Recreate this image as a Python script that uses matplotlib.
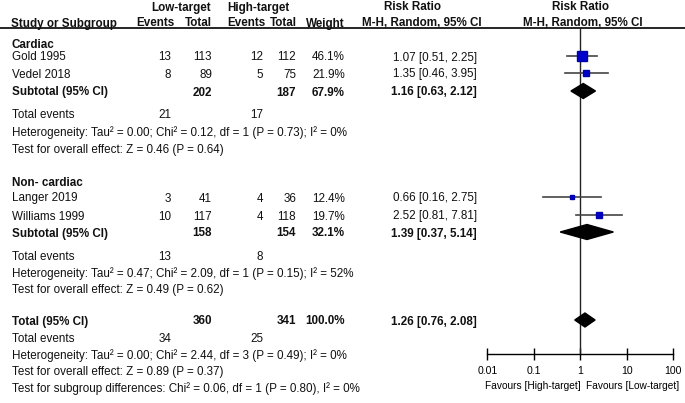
import numpy as np
import matplotlib
matplotlib.use('Agg')
import matplotlib.pyplot as plt

plt.rcParams['font.family'] = ['Liberation Sans', 'DejaVu Sans']

# study level data
studies = ['Gold 1995', 'Vedel 2018', 'Langer 2019', 'Williams 1999']
low_events = [13, 8, 3, 10]
low_total = [113, 89, 41, 117]
high_events = [12, 5, 4, 4]
high_total = [112, 75, 36, 118]
weights = [46.1, 21.9, 12.4, 19.7]
rr = [1.07, 1.35, 0.66, 2.52]
rr_lo = [0.51, 0.46, 0.16, 0.81]
rr_hi = [2.25, 3.95, 2.75, 7.81]

# subgroups
groups = ['Cardiac', 'Non- cardiac']
sub_low_total = [202, 158]
sub_high_total = [187, 154]
sub_weight = [67.9, 32.1]
sub_rr = [1.16, 1.39]
sub_lo = [0.63, 0.37]
sub_hi = [2.12, 5.14]
sub_low_events = [21, 13]
sub_high_events = [17, 8]
sub_het = ['Heterogeneity: Tau² = 0.00; Chi² = 0.12, df = 1 (P = 0.73); I² = 0%',
           'Heterogeneity: Tau² = 0.47; Chi² = 2.09, df = 1 (P = 0.15); I² = 52%']
sub_test = ['Test for overall effect: Z = 0.46 (P = 0.64)',
            'Test for overall effect: Z = 0.49 (P = 0.62)']

# overall
tot_low_total = 360
tot_high_total = 341
tot_weight = 100.0
tot_rr = 1.26
tot_lo = 0.76
tot_hi = 2.08
tot_low_events = 34
tot_high_events = 25
tot_het = 'Heterogeneity: Tau² = 0.00; Chi² = 2.44, df = 3 (P = 0.49); I² = 0%'
tot_test = 'Test for overall effect: Z = 0.89 (P = 0.37)'
subgroup_test = 'Test for subgroup differences: Chi² = 0.06, df = 1 (P = 0.80), I² = 0%'

ticks = [0.01, 0.1, 1, 10, 100]
tick_labels = ['0.01', '0.1', '1', '10', '100']

# layout (pixels)
W, H = 685, 403
fs = 8.4
x_name = 12
x_cols = [171, 212, 263, 296, 345]
x_rr = 477
study_rows = [56, 73, 197, 215]
group_rows = [43, 182]
sub_rows = [91, 232]
tot_row = 320
study_group = [0, 0, 1, 1]
axis_y = 354

fig = plt.figure(figsize=(W / 100, H / 100), dpi=100)
ax = fig.add_axes([0, 0, 1, 1])
ax.set_xlim(0, W)
ax.set_ylim(H, 0)
ax.axis('off')

fax = fig.add_axes([487.3 / W, (H - axis_y) / H, 186 / W, (axis_y - 50) / H])
fax.set_xscale('log')
fax.set_xlim(0.01, 100)
fax.set_ylim(axis_y, 50)
fax.patch.set_alpha(0)
for s in ['top', 'left', 'right']:
    fax.spines[s].set_visible(False)
fax.spines['bottom'].set_linewidth(1)
fax.set_yticks([])
fax.set_xticks(ticks)
fax.set_xticklabels(tick_labels, fontsize=7.6)
fax.minorticks_off()
fax.tick_params(axis='x', direction='inout', length=8, width=1, pad=5)


def txt(x, y, s, ha='left', bold=False, size=fs):
    ax.text(x, y + 1.5, s, ha=ha, va='center', fontsize=size,
            fontweight='bold' if bold else 'normal', color='#111111')


# header
txt(181, 6, 'Low-target', ha='center', bold=True)
txt(258, 6, 'High-target', ha='center', bold=True)
txt(413, 6, 'Risk Ratio', ha='center', bold=True)
txt(581, 6, 'Risk Ratio', ha='center', bold=True)
txt(11, 22, 'Study or Subgroup', bold=True)
txt(175, 22, 'Events', ha='right', bold=True)
txt(212, 22, 'Total', ha='right', bold=True)
txt(266, 22, 'Events', ha='right', bold=True)
txt(297, 22, 'Total', ha='right', bold=True)
txt(345, 22, 'Weight', ha='right', bold=True)
txt(422, 22, 'M-H, Random, 95% CI', ha='center', bold=True)
txt(583, 22, 'M-H, Random, 95% CI', ha='center', bold=True)
ax.plot([0, W], [28, 28], color='black', lw=1.2)

# vertical line of no effect
fax.plot([1, 1], [28, axis_y], color='#222222', lw=1, clip_on=False)

for g in range(len(groups)):
    txt(x_name, group_rows[g], groups[g], bold=True)
    for i in range(len(studies)):
        if study_group[i] != g:
            continue
        y = study_rows[i]
        txt(x_name, y, studies[i])
        vals = [low_events[i], low_total[i], high_events[i], high_total[i], '%.1f%%' % weights[i]]
        for xc, v in zip(x_cols, vals):
            txt(xc, y, str(v), ha='right')
        txt(x_rr, y, '%.2f [%.2f, %.2f]' % (rr[i], rr_lo[i], rr_hi[i]), ha='right')
        fax.plot([rr_lo[i], rr_hi[i]], [y, y], color='#444444', lw=1.2, zorder=2)
        side = 10 * (weights[i] / max(weights)) ** 0.65 * 0.72
        fax.plot([rr[i]], [y], marker='s', ms=side, color='#0000cc',
                 markeredgecolor='#0000aa', zorder=3, clip_on=False)

    y = sub_rows[g]
    txt(x_name, y, 'Subtotal (95% CI)', bold=True)
    txt(x_cols[1], y, str(sub_low_total[g]), ha='right', bold=True)
    txt(x_cols[3], y, str(sub_high_total[g]), ha='right', bold=True)
    txt(x_cols[4], y, '%.1f%%' % sub_weight[g], ha='right', bold=True)
    txt(x_rr, y, '%.2f [%.2f, %.2f]' % (sub_rr[g], sub_lo[g], sub_hi[g]), ha='right', bold=True)
    fax.fill([sub_lo[g], sub_rr[g], sub_hi[g], sub_rr[g]], [y, y - 7.5, y, y + 7.5],
             color='black', zorder=3, clip_on=False)

    y0 = sub_rows[g] + 23
    txt(x_name, y0, 'Total events')
    txt(x_cols[0], y0, str(sub_low_events[g]), ha='right')
    txt(x_cols[2], y0, str(sub_high_events[g]), ha='right')
    txt(x_name, y0 + 17, sub_het[g])
    txt(x_name, y0 + 34, sub_test[g])

# overall
y = tot_row
txt(x_name, y, 'Total (95% CI)', bold=True)
txt(x_cols[1], y, str(tot_low_total), ha='right', bold=True)
txt(x_cols[3], y, str(tot_high_total), ha='right', bold=True)
txt(x_cols[4], y, '%.1f%%' % tot_weight, ha='right', bold=True)
txt(x_rr, y, '%.2f [%.2f, %.2f]' % (tot_rr, tot_lo, tot_hi), ha='right', bold=True)
fax.fill([tot_lo, tot_rr, tot_hi, tot_rr], [y, y - 7, y, y + 7],
         color='black', zorder=3, clip_on=False)
txt(x_name, y + 17, 'Total events')
txt(x_cols[0], y + 17, str(tot_low_events), ha='right')
txt(x_cols[2], y + 17, str(tot_high_events), ha='right')
txt(x_name, y + 34, tot_het)
txt(x_name, y + 51, tot_test)
txt(x_name, y + 67, subgroup_test)

fax.text(1.0, 386, 'Favours [High-target]', ha='right', va='center', fontsize=7.3, clip_on=False)
fax.text(1.33, 386, 'Favours [Low-target]', ha='left', va='center', fontsize=7.3, clip_on=False)

fig.savefig('out.png', dpi=100)
